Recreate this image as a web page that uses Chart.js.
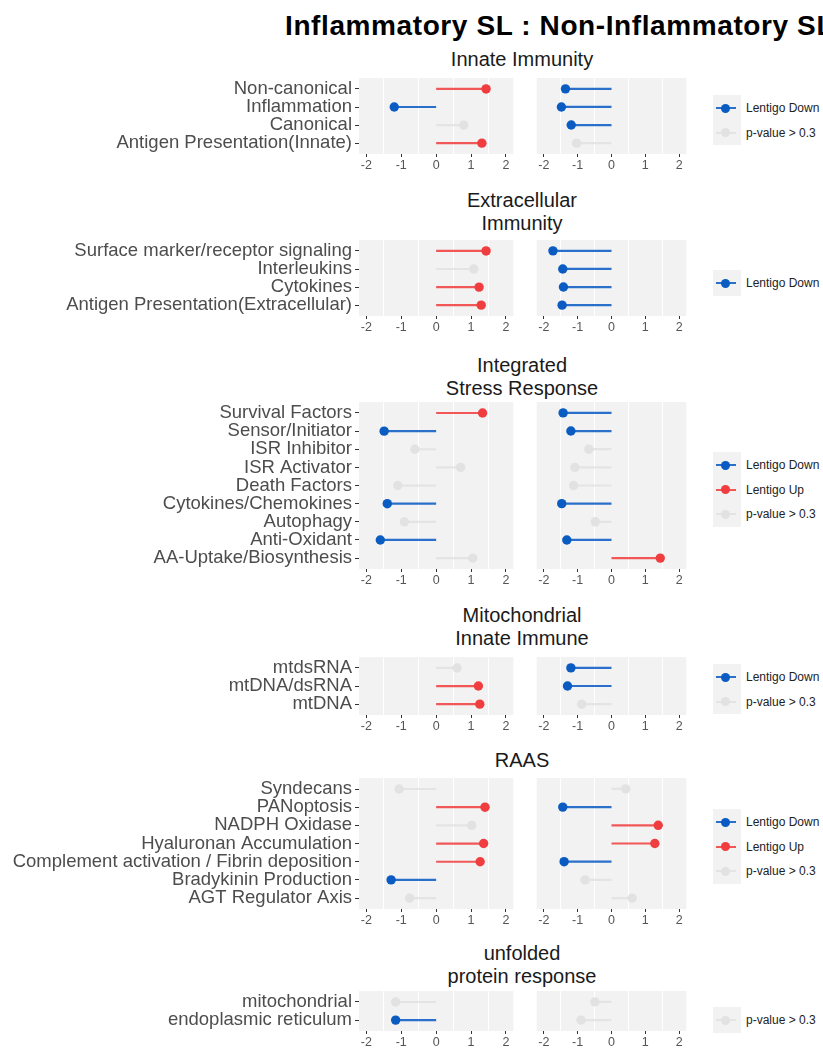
<!DOCTYPE html>
<html>
<head>
<meta charset="utf-8">
<script src="https://cdn.jsdelivr.net/npm/chart.js@4.4.1/dist/chart.umd.min.js"></script>
<style>
  body { margin: 0; background: #fff; width: 823px; height: 1049px; overflow: hidden; position: relative;
         font-family: 'Liberation Sans', Arial, sans-serif; }
  .txt { position: absolute; white-space: nowrap; }
  canvas { position: absolute; }
  .keybox { position: absolute; left: 713px; width: 28px; background: #f2f2f2; }
  .keyline { position: absolute; left: 716px; width: 20px; height: 2px; }
  .keydot { position: absolute; left: 721px; width: 9px; height: 9px; border-radius: 50%; }
  .keytxt { position: absolute; left: 746px; font-size: 12px; line-height: 16px; color: #222; white-space: nowrap; }
</style>
</head>
<body>
<div class="txt" style="left:285px;top:11px;font-size:28px;line-height:30px;font-weight:bold;letter-spacing:0.6px;color:#000">Inflammatory SL : Non-Inflammatory SL</div>
<div id="root"></div>
<script>
// --- data: one block per pathway; "inf" = Inflammatory SL facet, "non" = Non-Inflammatory SL facet
// status: up = Lentigo Up, down = Lentigo Down, ns = p-value > 0.3
const innateLabels = ['Non-canonical', 'Inflammation', 'Canonical', 'Antigen Presentation(Innate)'];
const innateInf = [1.43, -1.2, 0.79, 1.31];
const innateInfSig = ['up', 'down', 'ns', 'up'];
const innateNon = [-1.36, -1.48, -1.19, -1.03];
const innateNonSig = ['down', 'down', 'down', 'ns'];

const extraLabels = ['Surface marker/receptor signaling', 'Interleukins', 'Cytokines', 'Antigen Presentation(Extracellular)'];
const extraInf = [1.43, 1.08, 1.23, 1.29];
const extraInfSig = ['up', 'ns', 'up', 'up'];
const extraNon = [-1.73, -1.44, -1.42, -1.46];
const extraNonSig = ['down', 'down', 'down', 'down'];

const isrLabels = ['Survival Factors', 'Sensor/Initiator', 'ISR Inhibitor', 'ISR Activator', 'Death Factors',
                   'Cytokines/Chemokines', 'Autophagy', 'Anti-Oxidant', 'AA-Uptake/Biosynthesis'];
const isrInf = [1.33, -1.49, -0.61, 0.7, -1.1, -1.4, -0.91, -1.6, 1.05];
const isrInfSig = ['up', 'down', 'ns', 'ns', 'ns', 'down', 'ns', 'down', 'ns'];
const isrNon = [-1.43, -1.2, -0.67, -1.08, -1.12, -1.47, -0.48, -1.32, 1.44];
const isrNonSig = ['down', 'down', 'ns', 'ns', 'ns', 'down', 'ns', 'down', 'up'];

const mitoLabels = ['mtdsRNA', 'mtDNA/dsRNA', 'mtDNA'];
const mitoInf = [0.6, 1.21, 1.25];
const mitoInfSig = ['ns', 'up', 'up'];
const mitoNon = [-1.2, -1.3, -0.88];
const mitoNonSig = ['down', 'down', 'ns'];

const raasLabels = ['Syndecans', 'PANoptosis', 'NADPH Oxidase', 'Hyaluronan Accumulation',
                    'Complement activation / Fibrin deposition', 'Bradykinin Production', 'AGT Regulator Axis'];
const raasInf = [-1.06, 1.4, 1.02, 1.36, 1.26, -1.29, -0.76];
const raasInfSig = ['ns', 'up', 'ns', 'up', 'up', 'down', 'ns'];
const raasNon = [0.42, -1.44, 1.38, 1.28, -1.4, -0.78, 0.61];
const raasNonSig = ['ns', 'down', 'up', 'up', 'down', 'ns', 'ns'];

const uprLabels = ['mitochondrial', 'endoplasmic reticulum'];
const uprInf = [-1.16, -1.16];
const uprInfSig = ['ns', 'down'];
const uprNon = [-0.49, -0.9];
const uprNonSig = ['ns', 'ns'];

const xTicks = [-2, -1, 0, 1, 2];

// --- styling / layout
const DOT = { up: '#f03e40', down: '#0a5bc2', ns: '#e2e2e2' };
const LINE = { up: '#f25758', down: '#2a6fca', ns: '#e4e4e4' };
const LEGEND_TEXT = { down: 'Lentigo Down', up: 'Lentigo Up', ns: 'p-value > 0.3' };
const ROW = 18.2;       // px per category
const PAD_TOP = 14;
const AXIS_H = 24;
const Y_W = 359;        // width of the label column of the left facet
const XR = 2.21;

Chart.defaults.font.family = "'Liberation Sans', Arial, sans-serif";

const panels = [
  { title: ['Innate Immunity'], titleY: 59, firstRow: 89, legendY: 108,
    labels: innateLabels, inf: innateInf, infSig: innateInfSig, non: innateNon, nonSig: innateNonSig },
  { title: ['Extracellular', 'Immunity'], titleY: 200, firstRow: 251, legendY: 283,
    labels: extraLabels, inf: extraInf, infSig: extraInfSig, non: extraNon, nonSig: extraNonSig },
  { title: ['Integrated', 'Stress Response'], titleY: 365, firstRow: 413, legendY: 465,
    labels: isrLabels, inf: isrInf, infSig: isrInfSig, non: isrNon, nonSig: isrNonSig },
  { title: ['Mitochondrial', 'Innate Immune'], titleY: 615, firstRow: 668, legendY: 677,
    labels: mitoLabels, inf: mitoInf, infSig: mitoInfSig, non: mitoNon, nonSig: mitoNonSig },
  { title: ['RAAS'], titleY: 760, firstRow: 789, legendY: 822,
    labels: raasLabels, inf: raasInf, infSig: raasInfSig, non: raasNon, nonSig: raasNonSig },
  { title: ['unfolded', 'protein response'], titleY: 953, firstRow: 1002, legendY: 1020,
    labels: uprLabels, inf: uprInf, infSig: uprInfSig, non: uprNon, nonSig: uprNonSig }
];

const panelBg = {
  id: 'panelBg',
  beforeDraw(chart) {
    const a = chart.chartArea, ctx = chart.ctx;
    ctx.save();
    ctx.fillStyle = '#f2f2f2';
    ctx.fillRect(a.left, a.top, a.right - a.left, a.bottom - a.top);
    ctx.restore();
  }
};

const root = document.getElementById('root');

function addDiv(cls, css, text) {
  const d = document.createElement('div');
  d.className = cls;
  d.style.cssText = css;
  if (text) d.textContent = text;
  root.appendChild(d);
  return d;
}

function facet(left, top, width, height, labels, values, sig, showY) {
  const cv = document.createElement('canvas');
  cv.width = width; cv.height = height;
  cv.style.left = left + 'px'; cv.style.top = top + 'px';
  root.appendChild(cv);
  const n = labels.length;
  // one little dataset per row: stem from 0 to value, dot at the value
  const datasets = values.map((v, i) => ({
    data: [{ x: 0, y: i }, { x: v, y: i }],
    showLine: true,
    borderColor: LINE[sig[i]],
    borderWidth: 2.2,
    pointRadius: [0, 4.7],
    pointHoverRadius: [0, 4.7],
    pointBackgroundColor: DOT[sig[i]],
    pointBorderWidth: 0,
    order: sig[i] === 'ns' ? 2 : 1
  }));
  return new Chart(cv, {
    type: 'scatter',
    data: { datasets },
    options: {
      responsive: false,
      animation: false,
      layout: { padding: { top: PAD_TOP, left: 0, right: 0, bottom: 0 } },
      plugins: { legend: { display: false }, tooltip: { enabled: false } },
      scales: {
        x: {
          type: 'linear', min: -XR, max: XR,
          // keep the panel exactly as wide as the canvas allows
          afterFit: s => { s.height = AXIS_H; s.paddingLeft = 0; s.paddingRight = 0; },
          ticks: {
            stepSize: 0.5, autoSkip: false, includeBounds: false, maxRotation: 0, padding: 1,
            color: '#555555', font: { size: 12.5 },
            callback: v => xTicks.includes(v) ? String(v) : ''
          },
          grid: {
            color: c => (c.tick && !xTicks.includes(c.tick.value)) ? '#ffffff' : 'rgba(0,0,0,0)',
            tickColor: c => (c.tick && xTicks.includes(c.tick.value)) ? '#333333' : 'rgba(0,0,0,0)',
            tickLength: 3, lineWidth: 1
          },
          border: { display: false }
        },
        y: {
          type: 'linear', reverse: true, min: -0.6, max: n - 0.4, display: showY,
          afterFit: s => { if (showY) s.width = Y_W; },
          ticks: {
            stepSize: 1, autoSkip: false, includeBounds: false, padding: 3,
            color: '#4d4d4d', font: { size: 18.5 },
            callback: v => labels[v] ?? ''
          },
          grid: { drawOnChartArea: false, tickLength: 4, tickColor: '#333333' },
          border: { display: false }
        }
      }
    },
    plugins: [panelBg]
  });
}

panels.forEach(p => {
  const n = p.labels.length;
  const panelTop = p.firstRow - 0.6 * ROW;
  const top = panelTop - PAD_TOP;
  const height = Math.round(PAD_TOP + (n + 0.2) * ROW + AXIS_H);

  p.title.forEach((t, k) => {
    addDiv('txt', `left:522px;top:${p.titleY + k * 23 - 11}px;transform:translateX(-50%);font-size:20px;line-height:22px;color:#1a1a1a`, t);
  });

  facet(0, top, 518, height, p.labels, p.inf, p.infSig, true);
  facet(532, top, 159, height, p.labels, p.non, p.nonSig, false);

  // legend reflects the statuses present in the right-hand facet
  const keys = ['down', 'up', 'ns'].filter(k => p.nonSig.includes(k));
  const step = 24.5;
  addDiv('keybox', `top:${p.legendY - 13}px;height:${keys.length * step + 1}px`);
  keys.forEach((k, i) => {
    const y = p.legendY + i * step;
    addDiv('keyline', `top:${y - 1}px;background:${LINE[k]}`);
    addDiv('keydot', `top:${y - 4.5}px;background:${DOT[k]}`);
    addDiv('keytxt', `top:${y - 8}px`, LEGEND_TEXT[k]);
  });
});
</script>
</body>
</html>
